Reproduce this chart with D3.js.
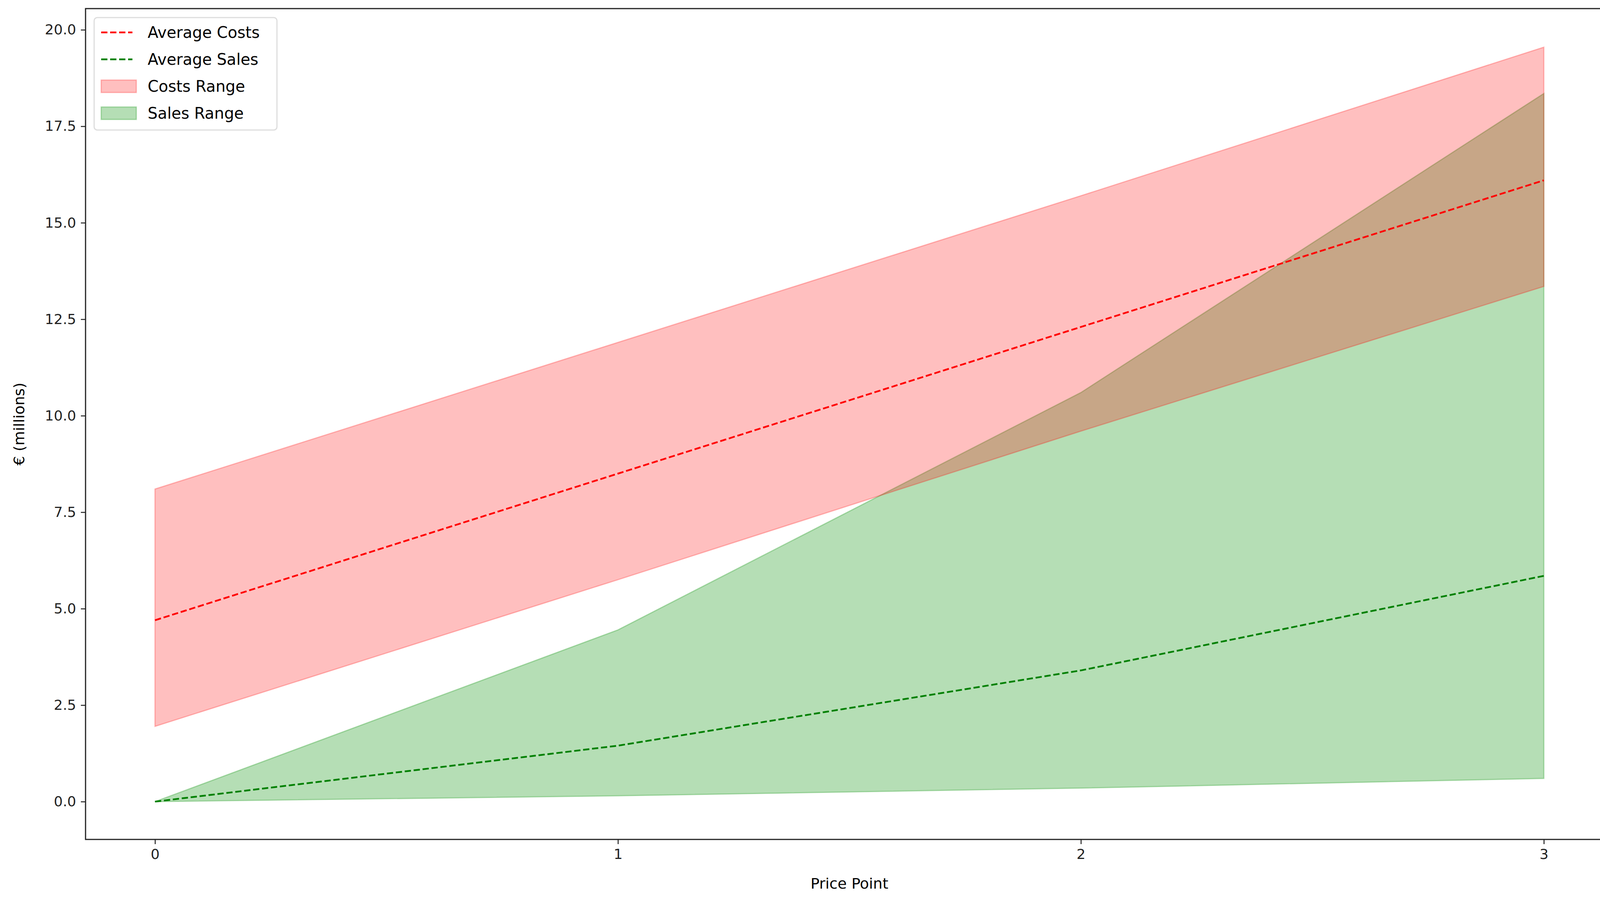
<!DOCTYPE html>
<html><head><meta charset="utf-8">
<script src="https://cdn.jsdelivr.net/npm/d3@7"></script>
<style>body{margin:0;background:#fff}text{font-family:"DejaVu Sans",sans-serif}</style>
</head><body><svg id="c" width="4157" height="2300"></svg>
<script>
const pricePoints = [0, 1, 2, 3];
const costsAvg = [4.7, 8.5, 12.3, 16.1];
const costsLow = [1.95, 5.75, 9.6, 13.35];
const costsHigh = [8.1, 11.9, 15.7, 19.55];
const salesAvg = [0, 1.45, 3.4, 5.85];
const salesLow = [0, 0.15, 0.35, 0.6];
const salesHigh = [0, 4.45, 10.6, 18.35];
const yTicks = [0, 2.5, 5, 7.5, 10, 12.5, 15, 17.5, 20];

const svg = d3.select("#c");
const L = 219, R = 4130, T = 22, B = 2150;
const x = d3.scaleLinear().domain([-0.15, 3.15]).range([L, R]);
const y = d3.scaleLinear().domain([-0.98, 20.55]).range([B, T]);

const area = (lo, hi) => d3.area().x((d, i) => x(pricePoints[i])).y0((d, i) => y(lo[i])).y1((d, i) => y(hi[i]));
const line = d3.line().x((d, i) => x(pricePoints[i])).y(d => y(d));

svg.append("path").attr("d", area(salesLow, salesHigh)(pricePoints))
  .attr("fill", "#2ca02c").attr("fill-opacity", 0.35).attr("stroke", "#2ca02c").attr("stroke-opacity", 0.35).attr("stroke-width", 3);
svg.append("path").attr("d", area(costsLow, costsHigh)(pricePoints))
  .attr("fill", "red").attr("fill-opacity", 0.25).attr("stroke", "red").attr("stroke-opacity", 0.25).attr("stroke-width", 3);
svg.append("path").attr("d", line(costsAvg)).attr("fill", "none").attr("stroke", "red").attr("stroke-width", 4.5).attr("stroke-dasharray", "16,7");
svg.append("path").attr("d", line(salesAvg)).attr("fill", "none").attr("stroke", "green").attr("stroke-width", 4.5).attr("stroke-dasharray", "16,7");

svg.append("rect").attr("x", L).attr("y", T).attr("width", R - L).attr("height", B - T)
  .attr("fill", "none").attr("stroke", "#222").attr("stroke-width", 3);

const xa = svg.append("g").attr("transform", `translate(0,${B})`)
  .call(d3.axisBottom(x).tickValues(pricePoints).tickFormat(d3.format("d")).tickSize(12).tickPadding(12));
const ya = svg.append("g").attr("transform", `translate(${L},0)`)
  .call(d3.axisLeft(y).tickValues(yTicks).tickFormat(d3.format(".1f")).tickSize(12).tickPadding(12));
[xa, ya].forEach(a => {
  a.select(".domain").remove();
  a.selectAll("line").attr("stroke", "#222").attr("stroke-width", 2.5);
  a.selectAll("text").attr("font-size", 36).attr("fill", "#222").style("font-family", "DejaVu Sans");
});

svg.append("text").attr("x", (L + R) / 2).attr("y", 2276).attr("text-anchor", "middle").attr("font-size", 38).text("Price Point");
svg.append("text").attr("transform", `translate(62,${(T + B) / 2}) rotate(-90)`).attr("text-anchor", "middle").attr("font-size", 38).text("€ (millions)");

const legend = [
  {label: "Average Costs", type: "line", color: "red"},
  {label: "Average Sales", type: "line", color: "green"},
  {label: "Costs Range", type: "patch", color: "red", op: 0.25},
  {label: "Sales Range", type: "patch", color: "#2ca02c", op: 0.35}
];
const lg = svg.append("g").attr("transform", "translate(241,45)");
lg.append("rect").attr("width", 468).attr("height", 288).attr("rx", 8)
  .attr("fill", "#fff").attr("fill-opacity", 0.8).attr("stroke", "#ddd").attr("stroke-width", 3);
legend.forEach((d, i) => {
  const cy = 38 + i * 69;
  if (d.type === "line") {
    lg.append("line").attr("x1", 18).attr("x2", 98).attr("y1", cy).attr("y2", cy)
      .attr("stroke", d.color).attr("stroke-width", 4.5).attr("stroke-dasharray", "16,7");
  } else {
    lg.append("rect").attr("x", 18).attr("y", cy - 16).attr("width", 90).attr("height", 32)
      .attr("fill", d.color).attr("fill-opacity", d.op).attr("stroke", d.color).attr("stroke-opacity", d.op).attr("stroke-width", 3);
  }
  lg.append("text").attr("x", 137).attr("y", cy).attr("dy", "0.35em").attr("font-size", 40).text(d.label);
});
</script></body></html>
